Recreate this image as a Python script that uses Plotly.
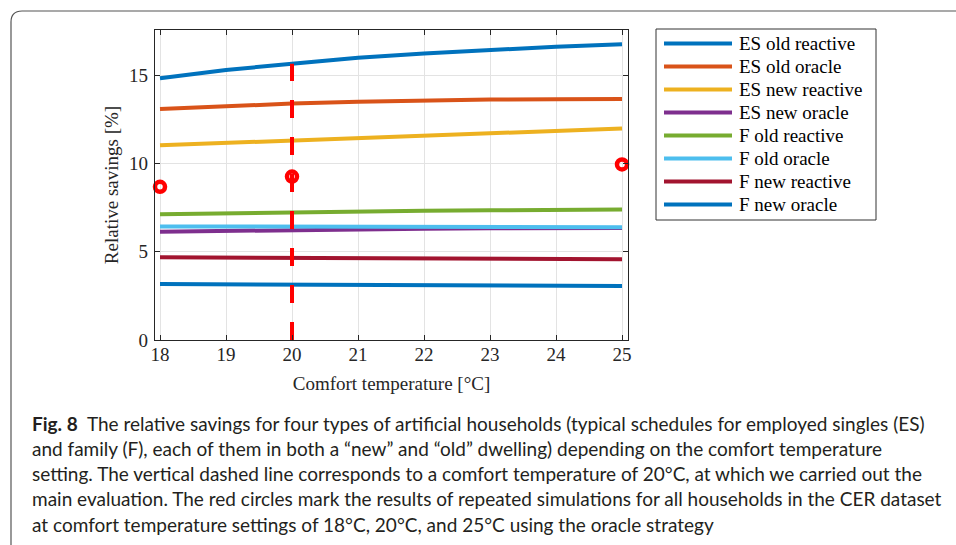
import plotly.graph_objects as go

# ---- data -------------------------------------------------------------
temperature = [18, 19, 20, 21, 22, 23, 24, 25]

es_old_reactive = [14.82, 15.28, 15.64, 15.98, 16.22, 16.42, 16.60, 16.74]
es_old_oracle = [13.07, 13.24, 13.38, 13.48, 13.57, 13.61, 13.63, 13.64]
es_new_reactive = [11.02, 11.15, 11.29, 11.42, 11.56, 11.71, 11.84, 11.97]
es_new_oracle = [6.13, 6.18, 6.23, 6.27, 6.30, 6.32, 6.33, 6.34]
f_old_reactive = [7.12, 7.18, 7.23, 7.27, 7.31, 7.34, 7.36, 7.38]
f_old_oracle = [6.43, 6.42, 6.42, 6.41, 6.40, 6.40, 6.39, 6.38]
f_new_reactive = [4.68, 4.66, 4.64, 4.62, 4.60, 4.59, 4.58, 4.57]
f_new_oracle = [3.17, 3.16, 3.15, 3.13, 3.11, 3.09, 3.07, 3.05]

series_names = [
    "ES old reactive", "ES old oracle", "ES new reactive", "ES new oracle",
    "F old reactive", "F old oracle", "F new reactive", "F new oracle",
]
series_values = [
    es_old_reactive, es_old_oracle, es_new_reactive, es_new_oracle,
    f_old_reactive, f_old_oracle, f_new_reactive, f_new_oracle,
]

# repeated simulations on the CER dataset (oracle strategy)
cer_temperature = [18, 20, 25]
cer_oracle = [8.67, 9.25, 9.94]

evaluation_temperature = 20

x_ticks = [18, 19, 20, 21, 22, 23, 24, 25]
y_ticks = [0, 5, 10, 15]

caption_lines = [
    "<b>Fig. 8</b>  The relative savings for four types of artificial households (typical schedules for employed singles (ES)",
    "and family (F), each of them in both a \u201cnew\u201d and \u201cold\u201d dwelling) depending on the comfort temperature",
    "setting. The vertical dashed line corresponds to a comfort temperature of 20\u00b0C, at which we carried out the",
    "main evaluation. The red circles mark the results of repeated simulations for all households in the CER dataset",
    "at comfort temperature settings of 18\u00b0C, 20\u00b0C, and 25\u00b0C using the oracle strategy",
]

# ---- styling ----------------------------------------------------------
colors = ["#0072BD", "#D95319", "#EDB120", "#7E2F8E",
          "#77AC30", "#4DBEEE", "#A2142F", "#0072BD"]
W, H = 956, 545
L, R, T, B = 155, 628, 30, 340          # plot-area edges in pixels
SERIF = "Liberation Serif"
SANS = "Lato"
AX = "#262626"
FS = 19


def px(x):
    return (x - L) / (R - L)


def py(y):
    return (B - y) / (B - T)


fig = go.Figure()

for name, vals, col in zip(series_names, series_values, colors):
    fig.add_trace(go.Scatter(
        x=temperature, y=vals, name=name, mode="lines",
        line=dict(color=col, width=4), showlegend=False,
    ))

# vertical dashed marker at the main evaluation temperature
i_eval = temperature.index(evaluation_temperature)
fig.add_trace(go.Scatter(
    x=[evaluation_temperature, evaluation_temperature],
    y=[0, es_old_reactive[i_eval]],
    mode="lines", line=dict(color="#FF0000", width=4, dash="18px,19px"),
    showlegend=False,
))

fig.add_trace(go.Scatter(
    x=cer_temperature, y=cer_oracle, mode="markers",
    marker=dict(symbol="circle-open", size=10, color="#FF0000",
                line=dict(width=4.5, color="#FF0000")),
    showlegend=False, cliponaxis=False,
))

shapes = []
annotations = []

# rounded outer frame of the figure panel
shapes.append(dict(
    type="path", xref="paper", yref="paper",
    path=(f"M {px(11)},{py(560)} L {px(11)},{py(22)} "
          f"Q {px(11)},{py(11)} {px(22)},{py(11)} L {px(970)},{py(11)}"),
    line=dict(color="#555555", width=1.2),
))

# legend box
shapes.append(dict(
    type="rect", xref="paper", yref="paper",
    x0=px(656), x1=px(876), y0=py(29), y1=py(220),
    line=dict(color="#333333", width=1), fillcolor="white", layer="above",
))
for k, (name, col) in enumerate(zip(series_names, colors)):
    yy = 43.5 + 23 * k
    shapes.append(dict(
        type="line", xref="paper", yref="paper",
        x0=px(664), x1=px(732), y0=py(yy), y1=py(yy),
        line=dict(color=col, width=4), layer="above",
    ))
    annotations.append(dict(
        xref="paper", yref="paper", x=px(737), y=py(yy),
        xanchor="left", yanchor="middle", showarrow=False,
        text=name, font=dict(family=SERIF, size=FS, color="#000000"),
    ))

# caption
for k, line in enumerate(caption_lines):
    yy = 423 + 25.25 * k
    annotations.append(dict(
        xref="paper", yref="paper", x=px(30), y=py(yy),
        xanchor="left", yanchor="middle", showarrow=False,
        text=line, font=dict(family=SANS, size=19, color="#231F20"),
    ))

axis_common = dict(
    showline=True, linecolor=AX, linewidth=1.2, mirror="ticks",
    ticks="inside", ticklen=5, tickcolor=AX, tickwidth=1,
    showgrid=True, gridcolor="#E3E3E3", gridwidth=1, zeroline=False,
    tickfont=dict(family=SERIF, size=FS, color=AX),
)

fig.update_xaxes(
    range=[18 - 5 / 66, 25 + 6 / 66], tickvals=x_ticks,
    ticklabelstandoff=-3,
    title=dict(text="Comfort temperature [\u00b0C]",
               font=dict(family=SERIF, size=FS, color=AX), standoff=12),
    **axis_common,
)
fig.update_yaxes(
    range=[0, (B - T) / 17.667], tickvals=y_ticks,
    ticklabelstandoff=2,
    title=dict(text="Relative savings [%]",
               font=dict(family=SERIF, size=FS, color=AX), standoff=5),
    **axis_common,
)

fig.update_layout(
    width=W, height=H,
    margin=dict(l=L, r=W - R, t=T, b=H - B, autoexpand=False),
    paper_bgcolor="white", plot_bgcolor="white",
    shapes=shapes, annotations=annotations,
)

fig.write_html("out.html")
